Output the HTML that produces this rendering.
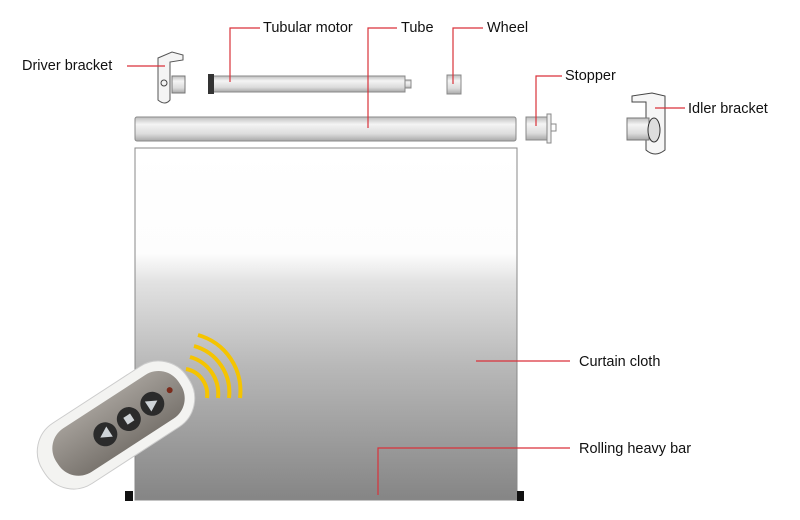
<!DOCTYPE html>
<html><head><meta charset="utf-8"><style>
html,body{margin:0;padding:0;background:#fff;}
svg{display:block}
text{font-family:"Liberation Sans",sans-serif;font-size:14.5px;fill:#111;}
</style></head><body>
<svg width="800" height="520" viewBox="0 0 800 520" xmlns="http://www.w3.org/2000/svg">
<defs>
<linearGradient id="cl" x1="0" y1="0" x2="0" y2="1">
<stop offset="0" stop-color="#fff"/><stop offset="0.3" stop-color="#fdfdfd"/><stop offset="0.38" stop-color="#e2e2e2"/><stop offset="0.62" stop-color="#b8b8b8"/><stop offset="1" stop-color="#858585"/>
</linearGradient>
<linearGradient id="cyl" x1="0" y1="0" x2="0" y2="1">
<stop offset="0" stop-color="#bdbdbd"/><stop offset="0.3" stop-color="#f4f4f4"/><stop offset="0.7" stop-color="#dcdcdc"/><stop offset="1" stop-color="#a8a8a8"/>
</linearGradient>
<linearGradient id="rg" x1="0" y1="0" x2="0" y2="1">
<stop offset="0" stop-color="#a29d97"/><stop offset="1" stop-color="#7a756f"/>
</linearGradient>
</defs>
<rect x="135" y="148" width="382" height="352" fill="url(#cl)" stroke="#888" stroke-width="1"/>
<rect x="125" y="491" width="8" height="10" fill="#111"/>
<rect x="517" y="491" width="7" height="10" fill="#111"/>
<rect x="135" y="117" width="381" height="24" rx="2" fill="url(#cyl)" stroke="#888"/>
<rect x="213" y="76" width="192" height="16" fill="url(#cyl)" stroke="#888"/>
<rect x="208" y="74" width="6" height="20" fill="#333"/>
<rect x="405" y="80" width="6" height="8" fill="url(#cyl)" stroke="#888"/>
<path d="M158 58 L172 52 L183 55 L183 60 L170 62 L170 100 Q165 106 158 100 Z" fill="#f4f4f4" stroke="#555"/>
<rect x="172" y="76" width="13" height="17" fill="url(#cyl)" stroke="#777"/>
<circle cx="164" cy="83" r="3" fill="none" stroke="#444"/>
<rect x="447" y="75" width="14" height="19" fill="url(#cyl)" stroke="#888"/>
<rect x="526" y="117" width="21" height="23" fill="url(#cyl)" stroke="#888"/>
<rect x="547" y="114" width="4" height="29" fill="#eee" stroke="#888"/>
<rect x="551" y="124" width="5" height="7" fill="#fff" stroke="#888"/>
<path d="M632 96 L652 93 L665 96 L665 150 Q655 158 646 150 L646 102 L632 102 Z" fill="#f6f6f6" stroke="#444"/>
<rect x="627" y="118" width="22" height="22" fill="url(#cyl)" stroke="#777"/>
<ellipse cx="654" cy="130" rx="6" ry="12" fill="#ddd" stroke="#333"/>
<g stroke="#d9323a" stroke-width="1.2" fill="none">
<path d="M127 66 H165"/>
<path d="M230 82 V28 H260"/>
<path d="M368 128 V28 H397"/>
<path d="M453 84 V28 H483"/>
<path d="M536 126 V76 H562"/>
<path d="M655 108 H685"/>
<path d="M476 361 H570"/>
<path d="M378 495 V448 H570"/>
</g>
<text x="22" y="70">Driver bracket</text>
<text x="263" y="32">Tubular motor</text>
<text x="401" y="32">Tube</text>
<text x="487" y="32">Wheel</text>
<text x="565" y="80">Stopper</text>
<text x="688" y="113">Idler bracket</text>
<text x="579" y="366">Curtain cloth</text>
<text x="579" y="453">Rolling heavy bar</text>
<g stroke="#f5c400" stroke-width="4" fill="none">
<path d="M186 369 A26 26 0 0 1 207 398"/>
<path d="M190 357 A38 38 0 0 1 218 398"/>
<path d="M194 346 A48 48 0 0 1 229 398"/>
<path d="M198 335 A58 58 0 0 1 240 398"/>
</g>
<g transform="translate(116,425) rotate(-33)">
<rect x="-86" y="-36" width="172" height="72" rx="34" fill="#f3f3f1" stroke="#ccc"/>
<rect x="-70" y="-26" width="146" height="52" rx="24" fill="url(#rg)"/>
<circle cx="-14" cy="2" r="12" fill="#2b2b2b"/>
<circle cx="14" cy="2" r="12" fill="#2b2b2b"/>
<circle cx="42" cy="2" r="12" fill="#2b2b2b"/>
<polygon points="-20,2 -9,-4 -9,8" fill="#cfd4d8"/>
<rect x="10" y="-2" width="8" height="8" fill="#cfd4d8"/>
<polygon points="48,2 37,-4 37,8" fill="#cfd4d8"/>
<circle cx="64" cy="0" r="3" fill="#7a2a1a"/>
</g>
</svg>
</body></html>
